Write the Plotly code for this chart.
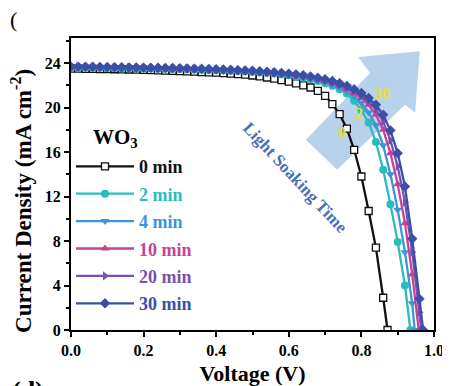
import plotly.graph_objects as go

# ---------------- data ----------------
V_GRID = [0.00, 0.02, 0.04, 0.06, 0.08, 0.10, 0.12, 0.14, 0.16, 0.18,
          0.20, 0.22, 0.24, 0.26, 0.28, 0.30, 0.32, 0.34, 0.36, 0.38,
          0.40, 0.42, 0.44, 0.46, 0.48, 0.50, 0.52, 0.54, 0.56, 0.58,
          0.60, 0.62, 0.64, 0.66, 0.68, 0.70, 0.72, 0.74, 0.76, 0.78,
          0.80, 0.82, 0.84, 0.86, 0.88, 0.90, 0.92, 0.94, 0.96]

J_0MIN = [23.50, 23.50, 23.48, 23.47, 23.46, 23.45, 23.44, 23.43, 23.42, 23.40,
          23.38, 23.36, 23.34, 23.32, 23.30, 23.27, 23.25, 23.22, 23.19, 23.16,
          23.13, 23.09, 23.05, 23.00, 22.95, 22.88, 22.80, 22.70, 22.60, 22.47,
          22.32, 22.17, 22.00, 21.80, 21.50, 21.05, 20.30, 19.40, 18.10, 16.20,
          13.80, 10.70, 7.40, 2.90]
VOC_0MIN = 0.872

J_2MIN = [23.60, 23.60, 23.59, 23.58, 23.57, 23.56, 23.55, 23.54, 23.53, 23.52,
          23.51, 23.50, 23.49, 23.48, 23.47, 23.46, 23.44, 23.42, 23.40, 23.38,
          23.36, 23.34, 23.31, 23.28, 23.25, 23.21, 23.17, 23.12, 23.06, 22.99,
          22.90, 22.80, 22.68, 22.54, 22.38, 22.18, 21.95, 21.65, 21.25, 20.60,
          19.75, 18.65, 16.90, 14.40, 11.30, 7.90, 4.00]
VOC_2MIN = 0.935

J_4MIN = [23.62, 23.62, 23.61, 23.60, 23.59, 23.58, 23.57, 23.56, 23.55, 23.54,
          23.53, 23.52, 23.51, 23.50, 23.49, 23.48, 23.46, 23.44, 23.42, 23.40,
          23.38, 23.36, 23.33, 23.30, 23.27, 23.23, 23.19, 23.14, 23.08, 23.00,
          22.92, 22.82, 22.70, 22.57, 22.42, 22.24, 22.03, 21.78, 21.45, 21.00,
          20.40, 19.55, 18.40, 16.60, 14.00, 10.80, 7.00, 2.40]
VOC_4MIN = 0.947

J_10MIN = [23.64, 23.64, 23.63, 23.62, 23.61, 23.60, 23.59, 23.58, 23.57, 23.56,
           23.55, 23.54, 23.53, 23.52, 23.51, 23.50, 23.48, 23.46, 23.44, 23.42,
           23.40, 23.38, 23.35, 23.32, 23.29, 23.25, 23.21, 23.16, 23.10, 23.04,
           22.98, 22.90, 22.80, 22.68, 22.54, 22.38, 22.19, 21.96, 21.66, 21.30,
           20.85, 20.25, 19.35, 18.00, 15.90, 13.10, 9.60, 5.00]
VOC_10MIN = 0.958

J_20MIN = [23.66, 23.66, 23.65, 23.64, 23.63, 23.62, 23.61, 23.60, 23.59, 23.58,
           23.57, 23.56, 23.55, 23.54, 23.53, 23.52, 23.50, 23.48, 23.46, 23.44,
           23.42, 23.40, 23.37, 23.34, 23.31, 23.27, 23.23, 23.18, 23.13, 23.07,
           23.01, 22.94, 22.85, 22.74, 22.61, 22.46, 22.28, 22.07, 21.80, 21.47,
           21.05, 20.55, 19.85, 18.75, 17.05, 14.70, 11.50, 7.00, 1.60]
VOC_20MIN = 0.965

J_30MIN = [23.68, 23.68, 23.67, 23.66, 23.65, 23.64, 23.63, 23.62, 23.61, 23.60,
           23.59, 23.58, 23.57, 23.56, 23.55, 23.54, 23.52, 23.50, 23.48, 23.46,
           23.44, 23.42, 23.39, 23.36, 23.33, 23.30, 23.26, 23.22, 23.17, 23.11,
           23.05, 22.98, 22.90, 22.80, 22.68, 22.54, 22.38, 22.18, 21.95, 21.65,
           21.30, 20.85, 20.25, 19.35, 17.95, 15.90, 12.90, 8.20, 2.80]
VOC_30MIN = 0.970

SERIES_NAMES = ["0 min", "2 min", "4 min", "10 min", "20 min", "30 min"]
SERIES_J = [J_0MIN, J_2MIN, J_4MIN, J_10MIN, J_20MIN, J_30MIN]
SERIES_VOC = [VOC_0MIN, VOC_2MIN, VOC_4MIN, VOC_10MIN, VOC_20MIN, VOC_30MIN]

X_TICKS = [0.0, 0.2, 0.4, 0.6, 0.8, 1.0]
X_TICK_LABELS = ["0.0", "0.2", "0.4", "0.6", "0.8", "1.0"]
Y_TICKS = [0, 4, 8, 12, 16, 20, 24]

# ---------------- styles ----------------
COLORS = ["#111111", "#2bbdbd", "#3a96d6", "#c2449a", "#7b4fae", "#3a4fa6"]
SYMBOLS = ["square-open", "circle", "triangle-down", "triangle-up", "triangle-right", "diamond"]
SERIF = "Liberation Serif"

fig = go.Figure()

# light-blue arrow (decoration, in data coordinates)
arrow_path = ("M 0.647 17.1 L 0.824 23.1 L 0.791 24.55 L 0.961 25.05 "
              "L 0.948 19.56 L 0.920 20.25 L 0.733 14.4 Z")
fig.add_shape(type="path", path=arrow_path, xref="x", yref="y",
              fillcolor="rgba(160,195,230,0.75)", line=dict(width=0), layer="below")

for i, (name, js, voc) in enumerate(zip(SERIES_NAMES, SERIES_J, SERIES_VOC)):
    xs = V_GRID[:len(js)] + [voc]
    ys = js + [0.0]
    marker = dict(symbol=SYMBOLS[i], size=8, color=COLORS[i])
    if i == 0:
        marker = dict(symbol="square", size=7, color="white",
                      line=dict(color=COLORS[i], width=1.3))
    fig.add_trace(go.Scatter(
        x=xs, y=ys, mode="lines+markers",
        name='<span style="color:%s">%s</span>' % (COLORS[i], name),
        legendgroup=name,
        line=dict(color=COLORS[i], width=2.3),
        marker=marker,
    ))

# the page body adds an 8 px offset, so the figure is 8 px smaller than the window
fig.update_layout(
    width=442, height=378,
    margin=dict(l=63, r=16, t=30, b=56, autoexpand=False),
    paper_bgcolor="white", plot_bgcolor="white",
    font=dict(family=SERIF, color="black"),
    showlegend=True,
    legend=dict(
        x=0.0, y=0.623, xanchor="left", yanchor="top",
        bgcolor="rgba(0,0,0,0)",
        font=dict(family=SERIF, size=18, weight="bold"),
        itemwidth=58, tracegroupgap=1,
    ),
    xaxis=dict(
        range=[0, 1.0], tickvals=X_TICKS, ticktext=X_TICK_LABELS,
        ticks="outside", ticklen=5, tickwidth=2, tickcolor="black",
        minor=dict(dtick=0.1, ticklen=3, tickwidth=1.5, ticks="outside", tickcolor="black", showgrid=False),
        showline=True, linewidth=2.2, linecolor="black", mirror=True,
        showgrid=False, zeroline=False, automargin=False,
        tickfont=dict(family=SERIF, size=16, weight="bold"),
        title=dict(text="Voltage (V)", font=dict(family=SERIF, size=22, weight="bold"), standoff=8),
    ),
    yaxis=dict(
        range=[0, 26.25], tickvals=Y_TICKS,
        ticks="outside", ticklen=5, tickwidth=2, tickcolor="black",
        minor=dict(dtick=2, ticklen=3, tickwidth=1.5, ticks="outside", tickcolor="black", showgrid=False),
        showline=True, linewidth=2.2, linecolor="black", mirror=True,
        showgrid=False, zeroline=False, automargin=False,
        tickfont=dict(family=SERIF, size=16, weight="bold"),
    ),
)

# y-axis title (placed as an annotation so it is centred on the plot height)
fig.add_annotation(x=0, y=0.49, xref="paper", yref="paper", xanchor="center", yanchor="middle",
                   xshift=-49, yshift=-14, textangle=-90, showarrow=False,
                   text="<b>Current Density (mA cm<sup>-2</sup>)</b>",
                   font=dict(family=SERIF, size=23, color="black"))

# legend title as annotation
fig.add_annotation(x=0.055, y=0.657, xref="paper", yref="paper", xanchor="left", yanchor="middle",
                   text="<b>WO<sub>3</sub></b>", showarrow=False,
                   font=dict(family=SERIF, size=21, color="black"))

# arrow labels
for txt, xv, yv in [("30", 0.857, 21.3), ("2", 0.793, 19.5), ("0", 0.747, 17.8)]:
    fig.add_annotation(x=xv, y=yv, xref="x", yref="y", text=txt, showarrow=False,
                       font=dict(family=SERIF, size=16, color="#e6df3c", weight="bold"))

fig.add_annotation(x=0.617, y=13.7, xref="x", yref="y", text="Light Soaking Time",
                   showarrow=False, textangle=47,
                   font=dict(family=SERIF, size=17, color="#4a6fb5", weight="bold"))

# fragments of panel labels at the edges
fig.add_annotation(x=0, y=0, xref="paper", yref="paper", xanchor="left", yanchor="top",
                   xshift=-63 + 2, yshift=-44,
                   text="<b>(d)</b>", showarrow=False, font=dict(family=SERIF, size=26, color="black"))
fig.add_annotation(x=0, y=1, xref="paper", yref="paper", xanchor="left", yanchor="top",
                   xshift=-63, yshift=33,
                   text="(", showarrow=False, font=dict(family=SERIF, size=22, color="black"))

fig.write_html("out.html")
